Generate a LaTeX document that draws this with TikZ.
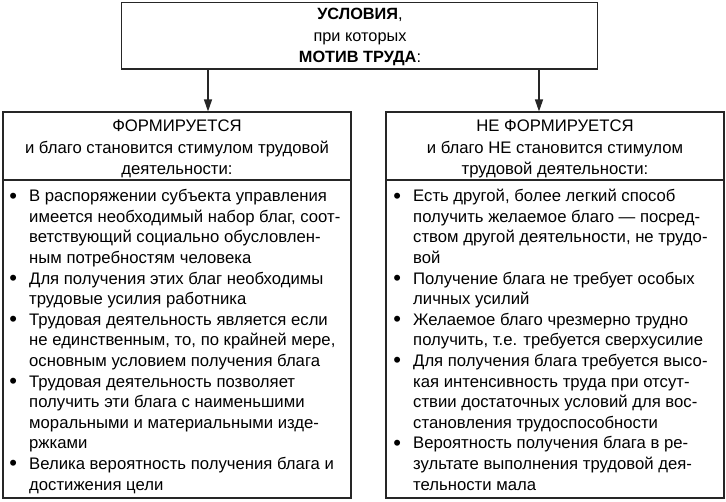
\documentclass[tikz,border=0pt]{standalone}
\usepackage{fontspec}
\setmainfont{Liberation Sans}
\usetikzlibrary{arrows.meta}
\newcommand{\bl}{\makebox[19pt][l]{\hspace{-0.8pt}\raisebox{-1.4pt}{\fontsize{22}{20}\selectfont •}}}
\newcommand{\ind}{\makebox[19pt][l]{}}
\begin{document}
\begin{tikzpicture}[x=1pt,y=-1pt,
  box/.style={draw=black!85, line width=1.1pt, inner sep=0pt},
  arr/.style={-{Triangle[length=12pt,width=8pt]}, line width=1.1pt, draw=black!85},
  toptext/.style={align=center, inner sep=0pt, font=\fontsize{16.3}{21.5}\selectfont},
  head/.style={align=center, inner sep=0pt, font=\fontsize{16.7}{21.5}\selectfont},
  list/.style={align=left, inner sep=0pt, anchor=north west, font=\fontsize{16.7}{20.6}\selectfont}]
\useasboundingbox (0,0) rectangle (726,501);
% boxes
\node[box, minimum width=476pt, minimum height=66.5pt] (top) at (359.5,35.75) {};
\node[box, minimum width=348pt, minimum height=386pt] (lbox) at (177,305) {};
\node[box, minimum width=338pt, minimum height=386pt] (rbox) at (555,305) {};
% separators
\coordinate (sep) at (0,180);
\draw[draw=black!85, line width=1.1pt] (lbox.west |- sep) -- (lbox.east |- sep);
\draw[draw=black!85, line width=1.1pt] (rbox.west |- sep) -- (rbox.east |- sep);
% arrows
\coordinate (la) at (208,0);
\coordinate (ra) at (539,0);
\draw[arr] (top.south -| la) -- (lbox.north -| la);
\draw[arr] (top.south -| ra) -- (rbox.north -| ra);
% texts
\node[toptext] (tt) at (360,37) {\textbf{УСЛОВИЯ},\\при которых\\\textbf{МОТИВ ТРУДА}:};
\node[head] (lh) at (177,149) {ФОРМИРУЕТСЯ\\и благо становится стимулом трудовой\\деятельности:};
\node[head] (rh) at (555,149) {НЕ ФОРМИРУЕТСЯ\\и благо НЕ становится стимулом\\трудовой деятельности:};
\node[list] (ll) at (10,185.5) {%
\rule{0pt}{16pt}\bl В распоряжении субъекта управления\\
\ind имеется необходимый набор благ, соот-\\
\ind ветствующий социально обусловлен-\\
\ind ным потребностям человека\\
\bl Для получения этих благ необходимы\\
\ind трудовые усилия работника\\
\bl Трудовая деятельность является если\\
\ind не единственным, то, по крайней мере,\\
\ind основным условием получения блага\\
\bl Трудовая деятельность позволяет\\
\ind получить эти блага с наименьшими\\
\ind моральными и материальными изде-\\
\ind ржками\\
\bl Велика вероятность получения блага и\\
\ind достижения цели};
\node[list] (rl) at (394,185.5) {%
\rule{0pt}{16pt}\bl Есть другой, более легкий способ\\
\ind получить желаемое благо — посред-\\
\ind ством другой деятельности, не трудо-\\
\ind вой\\
\bl Получение блага не требует особых\\
\ind личных усилий\\
\bl Желаемое благо чрезмерно трудно\\
\ind получить, т.е. требуется сверхусилие\\
\bl Для получения блага требуется высо-\\
\ind кая интенсивность труда при отсут-\\
\ind ствии достаточных условий для вос-\\
\ind становления трудоспособности\\
\bl Вероятность получения блага в ре-\\
\ind зультате выполнения трудовой дея-\\
\ind тельности мала};
\end{tikzpicture}
\end{document}
